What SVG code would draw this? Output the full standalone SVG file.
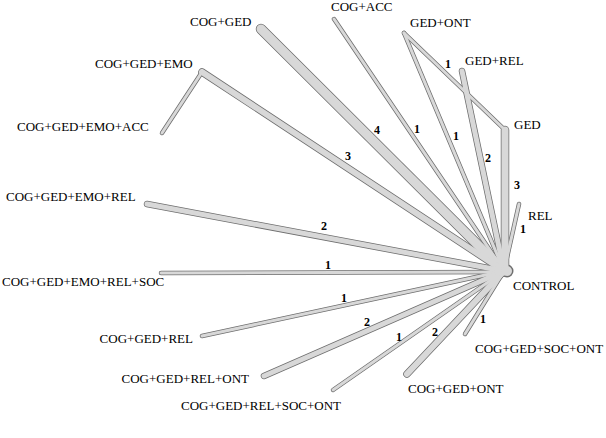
<svg xmlns="http://www.w3.org/2000/svg" width="606" height="438" viewBox="0 0 606 438">
<style>
.bg{fill:#ffffff}
.o line{stroke:#6e6e6e;stroke-linecap:round}
.f line{stroke:#d8d8d8;stroke-linecap:round}
.o circle{fill:#6e6e6e}
.f circle{fill:#d8d8d8}
.lbl{font-family:"Liberation Serif","Times New Roman",serif;font-size:13px;fill:#000}
.num{font-family:"Liberation Serif","Times New Roman",serif;font-size:12px;font-weight:bold;fill:#000;text-anchor:middle}
</style>
<rect class="bg" width="606" height="438"/>
<g id="connectors">
<g class="o">
<line x1="261" y1="29" x2="504" y2="271" stroke-width="10.5"/>
<line x1="334" y1="19" x2="504" y2="271" stroke-width="4.5"/>
<line x1="404" y1="33" x2="504" y2="271" stroke-width="4.5"/>
<line x1="404" y1="33" x2="505" y2="130" stroke-width="4.5"/>
<line x1="462" y1="71" x2="504" y2="271" stroke-width="6.5"/>
<line x1="505" y1="130" x2="505" y2="271" stroke-width="8.5"/>
<line x1="519" y1="204" x2="504" y2="271" stroke-width="4.5"/>
<line x1="202" y1="72" x2="504" y2="271" stroke-width="7.5"/>
<line x1="202" y1="72" x2="162" y2="133" stroke-width="4.5"/>
<line x1="147" y1="204" x2="504" y2="271" stroke-width="6.5"/>
<line x1="161" y1="273" x2="504" y2="272" stroke-width="4.5"/>
<line x1="202" y1="336" x2="504" y2="271" stroke-width="4.5"/>
<line x1="264" y1="376" x2="504" y2="271" stroke-width="6.5"/>
<line x1="333" y1="390" x2="504" y2="271" stroke-width="4.5"/>
<line x1="407" y1="374" x2="504" y2="271" stroke-width="7.5"/>
<line x1="465" y1="334" x2="504" y2="271" stroke-width="4.5"/>
<circle cx="507" cy="271" r="6.5"/>
</g>
<g class="f">
<line x1="261" y1="29" x2="504" y2="271" stroke-width="9"/>
<line x1="334" y1="19" x2="504" y2="271" stroke-width="3"/>
<line x1="404" y1="33" x2="504" y2="271" stroke-width="3"/>
<line x1="404" y1="33" x2="505" y2="130" stroke-width="3"/>
<line x1="462" y1="71" x2="504" y2="271" stroke-width="5"/>
<line x1="505" y1="130" x2="505" y2="271" stroke-width="7"/>
<line x1="519" y1="204" x2="504" y2="271" stroke-width="3"/>
<line x1="202" y1="72" x2="504" y2="271" stroke-width="6"/>
<line x1="202" y1="72" x2="162" y2="133" stroke-width="3"/>
<line x1="147" y1="204" x2="504" y2="271" stroke-width="5"/>
<line x1="161" y1="273" x2="504" y2="272" stroke-width="3"/>
<line x1="202" y1="336" x2="504" y2="271" stroke-width="3"/>
<line x1="264" y1="376" x2="504" y2="271" stroke-width="5"/>
<line x1="333" y1="390" x2="504" y2="271" stroke-width="3"/>
<line x1="407" y1="374" x2="504" y2="271" stroke-width="6"/>
<line x1="465" y1="334" x2="504" y2="271" stroke-width="3"/>
<circle cx="507" cy="271" r="5"/>
</g>
<g id="edge-labels">
<text class="num" x="377" y="134">4</text>
<text class="num" x="417" y="133">1</text>
<text class="num" x="348" y="160">3</text>
<text class="num" x="448" y="68">1</text>
<text class="num" x="456" y="140">1</text>
<text class="num" x="488" y="162">2</text>
<text class="num" x="517" y="189">3</text>
<text class="num" x="523" y="233">1</text>
<text class="num" x="324" y="230">2</text>
<text class="num" x="328" y="269">1</text>
<text class="num" x="344" y="302">1</text>
<text class="num" x="367" y="326">2</text>
<text class="num" x="399" y="341">1</text>
<text class="num" x="435" y="336">2</text>
<text class="num" x="483" y="323">1</text>
</g>
</g>
<g id="node-COG-GED"><text class="lbl" x="190" y="26">COG+GED</text></g>
<g id="node-COG-ACC"><text class="lbl" x="331" y="11">COG+ACC</text></g>
<g id="node-GED-ONT"><text class="lbl" x="410" y="27">GED+ONT</text></g>
<g id="node-GED-REL"><text class="lbl" x="465" y="65">GED+REL</text></g>
<g id="node-GED"><text class="lbl" x="514" y="129">GED</text></g>
<g id="node-REL"><text class="lbl" x="528" y="220">REL</text></g>
<g id="node-CONTROL"><text class="lbl" x="513" y="290">CONTROL</text></g>
<g id="node-COG-GED-EMO"><text class="lbl" x="95" y="68">COG+GED+EMO</text></g>
<g id="node-COG-GED-EMO-ACC"><text class="lbl" x="17" y="131">COG+GED+EMO+ACC</text></g>
<g id="node-COG-GED-EMO-REL"><text class="lbl" x="6" y="201">COG+GED+EMO+REL</text></g>
<g id="node-COG-GED-EMO-REL-SOC"><text class="lbl" x="2" y="286">COG+GED+EMO+REL+SOC</text></g>
<g id="node-COG-GED-REL"><text class="lbl" x="193" y="343" text-anchor="end">COG+GED+REL</text></g>
<g id="node-COG-GED-REL-ONT"><text class="lbl" x="249" y="383" text-anchor="end">COG+GED+REL+ONT</text></g>
<g id="node-COG-GED-REL-SOC-ONT"><text class="lbl" x="181" y="410">COG+GED+REL+SOC+ONT</text></g>
<g id="node-COG-GED-ONT"><text class="lbl" x="408" y="393">COG+GED+ONT</text></g>
<g id="node-COG-GED-SOC-ONT"><text class="lbl" x="475" y="353">COG+GED+SOC+ONT</text></g>
</svg>
